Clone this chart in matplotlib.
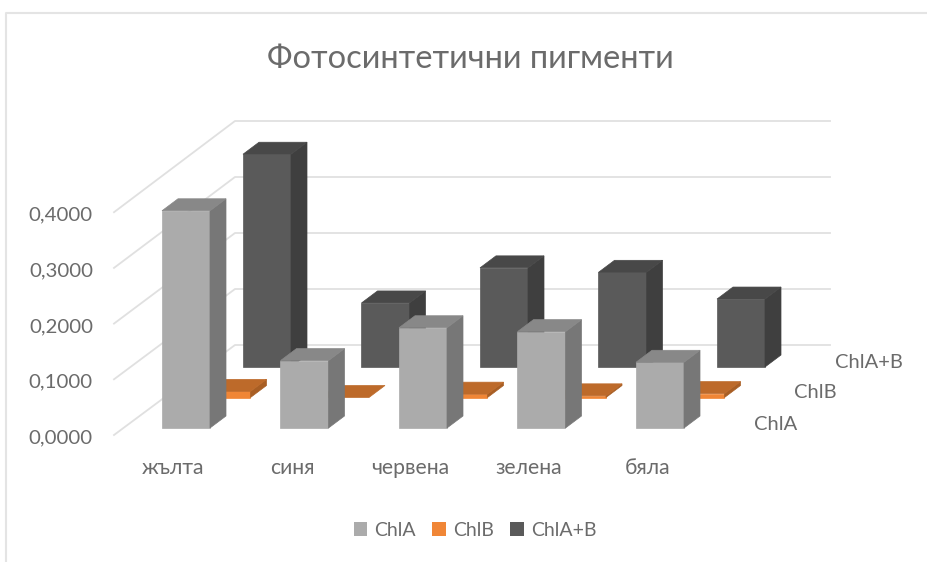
import matplotlib.pyplot as plt
from matplotlib.patches import Polygon, Patch

plt.rcParams['font.family'] = ['Lato', 'Open Sans', 'DejaVu Sans']

categories = ["жълта", "синя", "червена", "зелена", "бяла"]
series_names = ["ChlA", "ChlB", "ChlA+B"]
chla = [0.390, 0.121, 0.180, 0.173, 0.118]
chlb = [0.011, 0.000, 0.006, 0.003, 0.007]
chla_b = [0.382, 0.115, 0.178, 0.170, 0.122]
y_ticks = [0.0, 0.1, 0.2, 0.3, 0.4]

front_colors = ["#ababab", "#f08636", "#5a5a5a"]
top_colors = ["#888888", "#bd6a2a", "#484848"]
side_colors = ["#777777", "#a85e24", "#3f3f3f"]
text_color = "#6b6b6b"
grid_color = "#e0e0e0"

# oblique projection, pixels of the picture
PX_PER_UNIT = 557
CAT_STEP = 118.5
ROW_DX = 40.5
ROW_DY = -30.5
X0 = 162
Y0 = 428
BAR_W = 48
DEPTH_DX = 16
DEPTH_DY = -12


def project(cat, row, value):
    x = X0 + cat * CAT_STEP + row * ROW_DX
    y = Y0 + row * ROW_DY - value * PX_PER_UNIT
    return x, y


def draw_bar(ax, cat, row, value):
    x, y_top = project(cat, row, value)
    _, y_bot = project(cat, row, 0)
    front = [(x, y_bot), (x + BAR_W, y_bot), (x + BAR_W, y_top), (x, y_top)]
    top = [(x, y_top), (x + BAR_W, y_top),
           (x + BAR_W + DEPTH_DX, y_top + DEPTH_DY), (x + DEPTH_DX, y_top + DEPTH_DY)]
    side = [(x + BAR_W, y_bot), (x + BAR_W + DEPTH_DX, y_bot + DEPTH_DY),
            (x + BAR_W + DEPTH_DX, y_top + DEPTH_DY), (x + BAR_W, y_top)]
    # thin edge in the same colour, closes the seams between the faces
    if value > 0:
        ax.add_patch(Polygon(front, fc=front_colors[row], ec=front_colors[row], lw=0.5, zorder=3))
        ax.add_patch(Polygon(side, fc=side_colors[row], ec=side_colors[row], lw=0.5, zorder=3))
    ax.add_patch(Polygon(top, fc=top_colors[row], ec=top_colors[row], lw=0.5, zorder=3))


fig = plt.figure(figsize=(9.27, 5.62), dpi=100)
ax = fig.add_axes([0, 0, 1, 1])
ax.set_xlim(0, 927)
ax.set_ylim(562, 0)
ax.axis("off")

# chart border, top and left
ax.plot([6.5, 6.5, 927], [562, 12.5, 12.5], color="#e4e4e4", lw=1.5)

# walls
for t in y_ticks:
    y_front = 435 - t * 557
    y_back = 345 - t * 560
    ax.plot([114, 235, 830], [y_front, y_back, y_back], color=grid_color, lw=1.3)
    ax.text(93, y_front + 3, f"{t:.4f}".replace(".", ","), ha="right", va="center",
            fontsize=14.7, color=text_color)

for row, vals in [(2, chla_b), (1, chlb), (0, chla)]:
    for cat, v in enumerate(vals):
        draw_bar(ax, cat, row, v)

for cat, name in enumerate(categories):
    ax.text(173.5 + cat * 118.5, 468, name, ha="center", va="center",
            fontsize=15.2, color=text_color)

for i, name in enumerate(series_names):
    ax.text(754 + i * ROW_DX, 424 - i * 31, name, ha="left", va="center",
            fontsize=14.5, color=text_color)

ax.text(470, 58.5, "Фотосинтетични пигменти", ha="center", va="center",
        fontsize=23.5, color=text_color)

handles = [Patch(fc=c, ec="none", label=n) for c, n in zip(front_colors, series_names)]
ax.legend(handles=handles, loc="center", bbox_to_anchor=(475 / 927, 1 - 530 / 562), ncol=3,
          frameon=False, fontsize=14, labelcolor=text_color, handlelength=0.7,
          handleheight=0.7, handletextpad=0.35, columnspacing=0.85)

fig.savefig("out.png", dpi=100)
